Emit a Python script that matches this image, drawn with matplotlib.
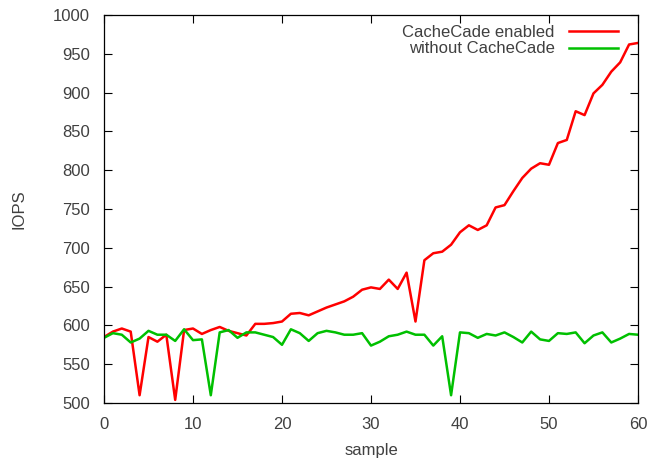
import matplotlib
matplotlib.use("Agg")
import matplotlib.pyplot as plt

# IOPS per sample
samples = list(range(61))
cachecade = [585, 592, 596, 592, 510, 585, 579, 588, 504, 594,
             596, 589, 594, 598, 593, 590, 587, 602, 602, 603,
             605, 615, 616, 613, 618, 623, 627, 631, 637, 646,
             649, 647, 659, 647, 668, 605, 684, 693, 695, 704,
             720, 729, 723, 729, 752, 755, 773, 790, 802, 809,
             807, 835, 839, 876, 871, 899, 910, 927, 939, 962,
             964]
without = [584, 590, 588, 578, 583, 593, 588, 588, 580, 595,
           581, 582, 510, 591, 594, 584, 591, 591, 588, 585,
           575, 595, 590, 580, 590, 593, 591, 588, 588, 590,
           574, 579, 586, 588, 592, 588, 588, 574, 586, 510,
           591, 590, 584, 589, 587, 591, 585, 578, 592, 582,
           580, 590, 589, 591, 577, 587, 591, 578, 583, 589,
           588]

text_col = "#404040"
fs = 12
plt.rcParams["font.family"] = ["Liberation Sans", "DejaVu Sans"]

fig = plt.figure(figsize=(6.5, 4.62), dpi=100)
ax = fig.add_axes([0.16, 0.1277, 0.8215, 0.8398])

ax.plot(samples, cachecade, color="#ff0000", lw=1.8, label="CacheCade enabled")
ax.plot(samples, without, color="#00c000", lw=1.8, label="without CacheCade")

ax.set_xlim(0, 60)
ax.set_ylim(500, 1000)
ax.set_xticks(range(0, 61, 10))
ax.set_yticks(range(500, 1001, 50))
ax.tick_params(direction="in", length=6, width=0.8, top=True, right=True,
               labelsize=fs, labelcolor=text_col, pad=10)
for s in ax.spines.values():
    s.set_linewidth(0.9)

ax.set_xlabel("sample", fontsize=fs, color=text_col, labelpad=8)
ax.set_ylabel("IOPS", fontsize=fs, color=text_col, labelpad=19)

leg = ax.legend(loc="upper right", frameon=False, markerfirst=False,
                fontsize=fs, handlelength=2.95, handletextpad=0.84,
                labelspacing=0.1, borderaxespad=0.3,
                bbox_to_anchor=(0.984, 1.005))
for t in leg.get_texts():
    t.set_color(text_col)

fig.savefig("out.png", dpi=100)
